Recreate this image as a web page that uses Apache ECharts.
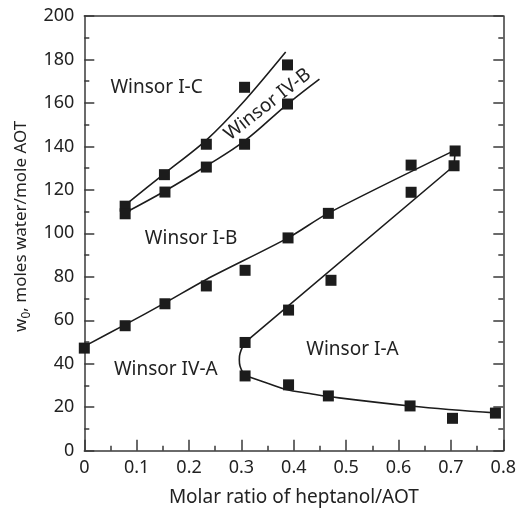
<!DOCTYPE html>
<html>
<head>
<meta charset="utf-8">
<script src="https://cdn.jsdelivr.net/npm/echarts@6/dist/echarts.min.js"></script>
<style>html,body{margin:0;padding:0;background:#fff}#c{width:519px;height:512px}</style>
</head>
<body>
<div id="c"></div>
<script>
// ---- data ----
const xTicks = [0, 0.1, 0.2, 0.3, 0.4, 0.5, 0.6, 0.7, 0.8];
const yTicks = [0, 20, 40, 60, 80, 100, 120, 140, 160, 180, 200];

// measured points (squares)
const ptsIC = [[0.078,112.5],[0.153,127],[0.233,141],[0.306,167.2],[0.388,177.5]];
const ptsIVB = [[0.078,109],[0.154,119],[0.233,130.5],[0.306,141],[0.388,159.5]];
const ptsIB = [[0,47.2],[0.078,57.5],[0.154,67.6],[0.233,75.8],[0.307,83],[0.389,97.9],[0.466,109.2],[0.624,131.4],[0.708,137.9]];
const ptsIAupper = [[0.307,49.8],[0.390,64.7],[0.471,78.4],[0.624,118.9],[0.706,131.1]];
const ptsIAlower = [[0.307,34.4],[0.390,30.3],[0.466,25.2],[0.622,20.6],[0.703,14.9],[0.785,17.3]];

// drawn boundary curves
const curveIC = [[0.078,113],[0.153,127.5],[0.2335,143],[0.306,161],[0.3845,183.4]];
const curveIVB = [[0.078,109.5],[0.154,119.5],[0.233,131],[0.306,142.5],[0.388,159.5],[0.449,171]];
const curveIB = [[0,48],[0.078,58],[0.154,68],[0.233,78.8],[0.389,97.9],[0.466,109.3],[0.708,138.3]];
const curveIAupper = [[0.307,49.8],[0.706,131.1],[0.708,137.9]];
const curveIAbend = [[0.307,49.8],[0.299,46],[0.296,41.8],[0.299,37.8],[0.307,34.6]];
const curveIAlower = [[0.307,34.6],[0.35,31],[0.385,28.2],[0.43,26.3],[0.466,24.9],[0.622,20.6],[0.785,17.4]];

// region labels
const regionNames = ['Winsor I-C', 'Winsor IV-B', 'Winsor I-B', 'Winsor IV-A', 'Winsor I-A'];
const regionPos = [[0.138,166.9],[0.35,159.3],[0.204,97.7],[0.1556,37.1],[0.512,46.3]];
const regionRot = [0, 38, 0, 0, 0];

const INK = '#1c1c1c';
const AX = '#3a3a3a';
const FONT = 'Noto Sans';

const chart = echarts.init(document.getElementById('c'), null, {renderer: 'canvas'});

function lineSeries(data, smooth) {
  return {
    type: 'line', data: data, smooth: smooth, showSymbol: false, symbol: 'none',
    lineStyle: {color: INK, width: 1.6}, z: 2, silent: true, animation: false
  };
}
function ptSeries(data) {
  return {
    type: 'scatter', data: data, symbol: 'rect', symbolSize: 11,
    itemStyle: {color: INK, opacity: 1}, z: 3, silent: true, animation: false
  };
}

const labelData = regionNames.map((n, i) => ({
  name: n, value: regionPos[i],
  label: {rotate: regionRot[i]}
}));

chart.setOption({
  animation: false,
  backgroundColor: '#fff',
  grid: {left: 84.3, right: 15.7, top: 16, bottom: 61.3},
  xAxis: [{
    type: 'value', min: 0, max: 0.8, interval: 0.1,
    name: 'Molar ratio of heptanol/AOT', nameLocation: 'middle', nameGap: 37,
    nameTextStyle: {fontFamily: FONT, fontSize: 19, color: '#222'},
    axisLine: {show: true, lineStyle: {color: AX, width: 1.5}},
    axisTick: {show: true, inside: true, length: 11, lineStyle: {color: AX, width: 1.5}},
    minorTick: {show: true, splitNumber: 2, length: 5, lineStyle: {color: AX, width: 1.5}},
    axisLabel: {fontFamily: FONT, fontSize: 18, color: '#222', margin: 8,
      formatter: v => { const t = xTicks.find(k => Math.abs(k - v) < 1e-9); return t === undefined ? '' : String(t); }},
    splitLine: {show: false}
  }, {
    type: 'value', min: 0, max: 0.8, position: 'top',
    axisLine: {show: true, onZero: false, lineStyle: {color: AX, width: 1.5}},
    axisTick: {show: false}, axisLabel: {show: false}, splitLine: {show: false}
  }],
  yAxis: [{
    type: 'value', min: 0, max: 200, interval: 20,
    name: '{a|w}{s|0}{a|, moles water/mole AOT}', nameLocation: 'middle', nameGap: 52,
    nameTextStyle: {fontFamily: FONT, fontSize: 17, color: '#222', padding: [0, 0, 0, 14],
      rich: {a: {fontFamily: FONT, fontSize: 17, color: '#222'},
             s: {fontFamily: FONT, fontSize: 12, color: '#222', verticalAlign: 'bottom', padding: [10, 0, 0, 0]}}},
    axisLine: {show: true, lineStyle: {color: AX, width: 1.5}},
    axisTick: {show: true, inside: true, length: 10, lineStyle: {color: AX, width: 1.5}},
    minorTick: {show: true, splitNumber: 2, length: 5, lineStyle: {color: AX, width: 1.5}},
    axisLabel: {fontFamily: FONT, fontSize: 18, color: '#222', margin: 10,
      formatter: v => { const t = yTicks.find(k => Math.abs(k - v) < 1e-9); return t === undefined ? '' : String(t); }},
    splitLine: {show: false}
  }, {
    type: 'value', min: 0, max: 200, interval: 20, position: 'right',
    axisLine: {show: true, onZero: false, lineStyle: {color: AX, width: 1.5}},
    axisTick: {show: true, inside: true, length: 10, lineStyle: {color: AX, width: 1.5}},
    minorTick: {show: true, splitNumber: 2, length: 5, lineStyle: {color: AX, width: 1.5}},
    axisLabel: {show: false}, splitLine: {show: false}
  }],
  series: [
    lineSeries(curveIC, 0.3),
    lineSeries(curveIVB, 0.4),
    lineSeries(curveIB, 0.3),
    lineSeries(curveIAupper, false),
    lineSeries(curveIAbend, 0.6),
    lineSeries(curveIAlower, 0.4),
    ptSeries(ptsIC), ptSeries(ptsIVB), ptSeries(ptsIB), ptSeries(ptsIAupper), ptSeries(ptsIAlower),
    {
      type: 'scatter', data: labelData, symbol: 'circle', symbolSize: 2, z: 4, silent: true,
      itemStyle: {color: 'rgba(255,255,255,0)', opacity: 1},
      label: {show: true, position: 'inside', formatter: '{b}',
        fontFamily: FONT, fontSize: 19, color: '#222', opacity: 1}
    }
  ]
});
</script>
</body>
</html>
